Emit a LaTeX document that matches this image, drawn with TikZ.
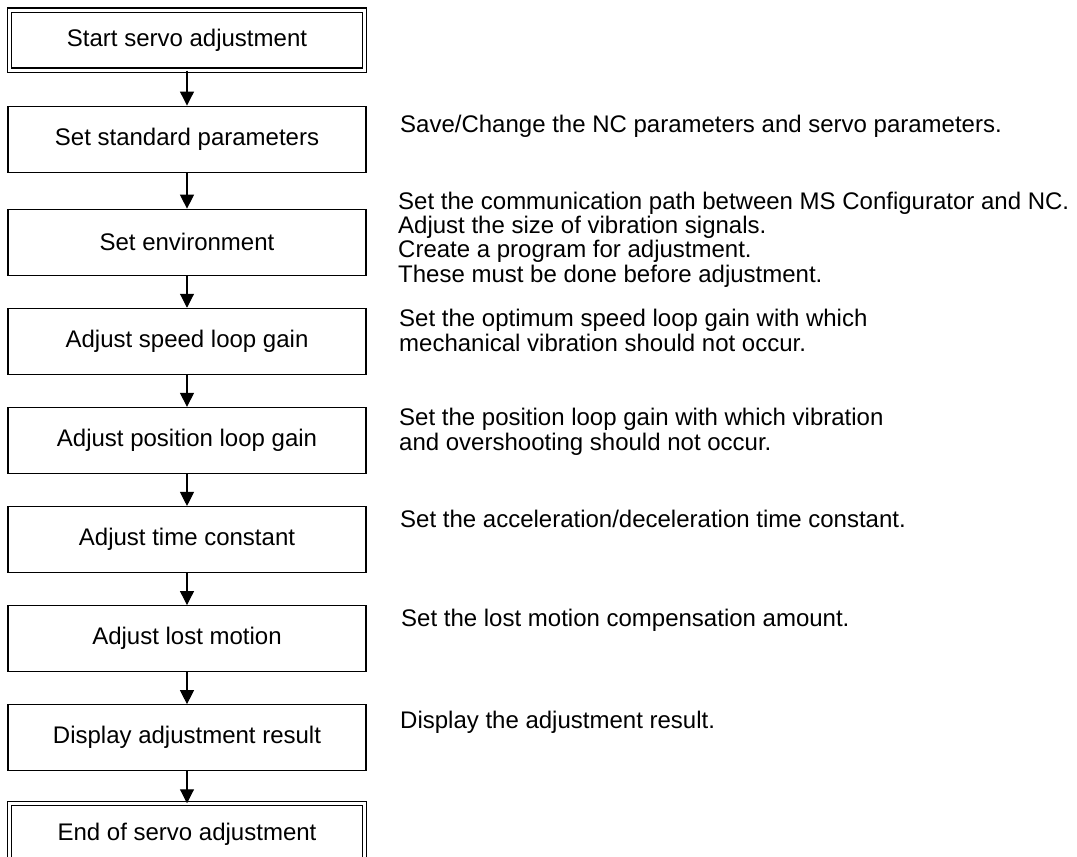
\documentclass[tikz,border=0pt]{standalone}
\usepackage{fontspec}
\setmainfont{Liberation Sans}
\usetikzlibrary{arrows.meta,positioning}

\begin{document}
\begin{tikzpicture}[x=1pt,y=-1pt,
    stepbox/.style={rectangle,draw,line width=1.1pt,minimum width=358pt,minimum height=66pt,inner sep=0pt,font=\fontsize{24}{28}\selectfont},
    termbox/.style={stepbox,double,double distance=3pt,minimum width=355pt,minimum height=60pt},
    note/.style={anchor=base west,inner sep=0pt,align=left,font=\fontsize{24}{24.3}\selectfont},
    arrow/.style={-{Triangle[length=14pt,width=14pt]},line width=1.1pt},
    node distance=32pt
]
\useasboundingbox (0,0) rectangle (1077,857);
\node[termbox] (start) at (187,40) {Start servo adjustment};
\node[stepbox,below=35pt of start] (stdpar) {Set standard parameters};
\node[stepbox,below=36pt of stdpar] (env) {Set environment};
\node[stepbox,below=of env] (speed) {Adjust speed loop gain};
\node[stepbox,below=of speed] (pos) {Adjust position loop gain};
\node[stepbox,below=of pos] (timec) {Adjust time constant};
\node[stepbox,below=of timec] (lost) {Adjust lost motion};
\node[stepbox,below=of lost] (result) {Display adjustment result};
\node[termbox,below=of result] (finish) {End of servo adjustment};
\draw[arrow] (start) -- (stdpar);
\draw[arrow] (stdpar) -- (env);
\draw[arrow] (env) -- (speed);
\draw[arrow] (speed) -- (pos);
\draw[arrow] (pos) -- (timec);
\draw[arrow] (timec) -- (lost);
\draw[arrow] (lost) -- (result);
\draw[arrow] (result) -- (finish);
% notes beside the steps (base = last line)
\node[note] (stdparnote) at (400,132) {Save/Change the NC parameters and servo parameters.};
\node[note] (envnote) at (398,282) {Set the communication path between MS Configurator and NC.\\Adjust the size of vibration signals.\\Create a program for adjustment.\\These must be done before adjustment.};
\node[note] (speednote) at (399,351) {Set the optimum speed loop gain with which\\mechanical vibration should not occur.};
\node[note] (posnote) at (399,450) {Set the position loop gain with which vibration\\and overshooting should not occur.};
\node[note] (timecnote) at (400,527) {Set the acceleration/deceleration time constant.};
\node[note] (lostnote) at (401,626) {Set the lost motion compensation amount.};
\node[note] (resultnote) at (400,728) {Display the adjustment result.};
\end{tikzpicture}
\end{document}
